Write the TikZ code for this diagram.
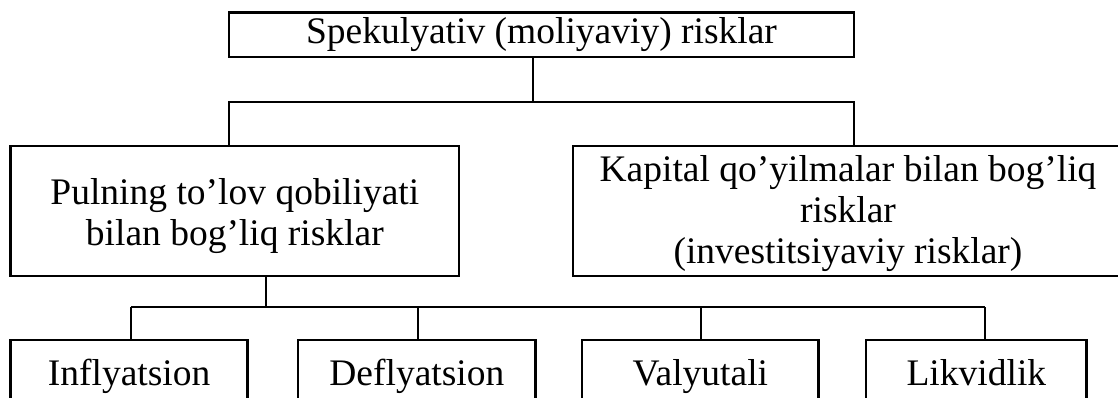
\documentclass[tikz,border=0pt]{standalone}
\usepackage{fontspec}
\setmainfont{Liberation Serif}
\begin{document}
\begin{tikzpicture}[x=1pt,y=-1pt,
  box/.style={draw=black, line width=2.6pt, rectangle, inner sep=0pt, outer sep=0pt,
    align=center, font=\fontsize{37.5}{41}\selectfont},
  oneline/.style={box, text height=25.5pt, text depth=8pt},
  link/.style={draw=black, line width=2.6pt}]
\useasboundingbox (0,0) rectangle (1118,398);
\clip (0,0) rectangle (1118,398);

% top level
\node[oneline, minimum width=625pt, minimum height=44.5pt] (top) at (541.5,34.75)
  {Spekulyativ (moliyaviy) risklar};

% second level
\node[box, minimum width=448.3pt, minimum height=130pt] (pul) at (234.85,211)
  {\rule{0pt}{36pt}Pulning to’lov qobiliyati\\bilan bog’liq risklar};
\node[box, minimum width=550pt, minimum height=130pt] (kap) at (848,211)
  {\rule{0pt}{32pt}Kapital qo’yilmalar bilan bog’liq\\risklar\\(investitsiyaviy risklar)};

% third level (runs past the lower edge)
\node[oneline, minimum width=236.8pt, minimum height=73pt] (inf) at (129.1,376.5) {Inflyatsion};
\node[oneline, minimum width=237.7pt, minimum height=73pt] (def) at (416.85,376.5) {Deflyatsion};
\node[oneline, minimum width=236.7pt, minimum height=73pt] (val) at (700.35,376.5) {Valyutali};
\node[oneline, minimum width=220.7pt, minimum height=73pt] (lik) at (976.35,376.5) {Likvidlik};

% connectors from the top box
\coordinate (j1) at (533,102);
\draw[link] (top.south -| j1) -- (j1);
\draw[link] (top.west |- pul.north) |- (top.east |- j1) -- (top.east |- kap.north);

% connectors from the left box
\coordinate (j2) at (266,307);
\coordinate (d1) at (131,307);
\coordinate (d2) at (418,307);
\coordinate (d3) at (701,307);
\coordinate (d4) at (985,307);
\draw[link] (pul.south -| j2) -- (j2);
\draw[link] (d1) -- (d4);
\foreach \d/\b in {d1/inf, d2/def, d3/val, d4/lik}
  \draw[link] (\d) -- (\d |- \b.north);
\end{tikzpicture}
\end{document}
